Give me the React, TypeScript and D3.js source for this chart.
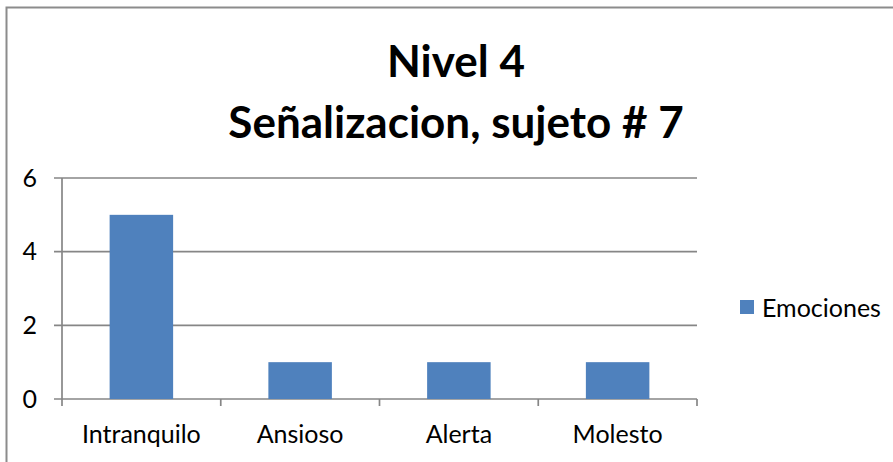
import { useEffect, useRef } from "react";
import * as d3 from "d3";

const categories = ["Intranquilo", "Ansioso", "Alerta", "Molesto"];
const values = [5, 1, 1, 1];
const yTicks = [0, 2, 4, 6];
const seriesName = "Emociones";
const titleLines = ["Nivel 4", "Señalizacion, sujeto # 7"];

const FONT = "Lato, 'Open Sans', sans-serif";

export default function App() {
  const ref = useRef<SVGSVGElement>(null);

  useEffect(() => {
    const svg = d3.select(ref.current);
    svg.selectAll("*").remove();

    const plot = { left: 62, right: 697, top: 178, bottom: 399 };
    const grey = "#868686";

    // outer chart frame (cropped on the right and bottom)
    svg.append("rect")
      .attr("x", 6.5).attr("y", 7.5)
      .attr("width", 1000).attr("height", 1000)
      .attr("fill", "white")
      .attr("stroke", "#8c8c8c")
      .attr("stroke-width", 2);

    const x = d3.scaleBand()
      .domain(categories)
      .range([plot.left, plot.right])
      .paddingInner(0.6)
      .paddingOuter(0.3);

    const y = d3.scaleLinear()
      .domain([0, 6])
      .range([plot.bottom, plot.top]);

    // horizontal gridlines + y ticks
    svg.append("g")
      .selectAll("line")
      .data(yTicks)
      .enter()
      .append("line")
      .attr("x1", plot.left - 8)
      .attr("x2", plot.right)
      .attr("y1", d => y(d))
      .attr("y2", d => y(d))
      .attr("stroke", grey)
      .attr("stroke-width", 1.7);

    // y axis line
    svg.append("line")
      .attr("x1", plot.left).attr("x2", plot.left)
      .attr("y1", y(6)).attr("y2", plot.bottom + 7)
      .attr("stroke", grey).attr("stroke-width", 1.7);

    // category tick marks at band edges
    const step = x.step();
    const edges = d3.range(categories.length + 1).map(i => plot.left + i * step);
    svg.append("g")
      .selectAll("line")
      .data(edges.slice(1))
      .enter()
      .append("line")
      .attr("x1", d => d).attr("x2", d => d)
      .attr("y1", plot.bottom).attr("y2", plot.bottom + 7)
      .attr("stroke", grey).attr("stroke-width", 1.7);

    // y labels
    svg.append("g")
      .selectAll("text")
      .data(yTicks)
      .enter()
      .append("text")
      .attr("x", 37)
      .attr("y", d => y(d))
      .attr("dy", "0.35em")
      .attr("text-anchor", "end")
      .attr("font-family", FONT)
      .attr("font-size", 25)
      .attr("fill", "#000")
      .text(d => d);

    // bars
    svg.append("g")
      .selectAll("rect")
      .data(values)
      .enter()
      .append("rect")
      .attr("x", (d, i) => x(categories[i])!)
      .attr("y", d => y(d))
      .attr("width", x.bandwidth())
      .attr("height", d => plot.bottom - y(d))
      .attr("fill", "#4f81bd");

    // category labels
    svg.append("g")
      .selectAll("text")
      .data(categories)
      .enter()
      .append("text")
      .attr("x", d => x(d)! + x.bandwidth() / 2)
      .attr("y", 443)
      .attr("text-anchor", "middle")
      .attr("font-family", FONT)
      .attr("font-size", 25)
      .attr("fill", "#000")
      .text(d => d);

    // title
    svg.append("g")
      .selectAll("text")
      .data(titleLines)
      .enter()
      .append("text")
      .attr("x", 456)
      .attr("y", (d, i) => 77 + i * 61)
      .attr("text-anchor", "middle")
      .attr("font-family", FONT)
      .attr("font-weight", "bold")
      .attr("font-size", 44)
      .attr("fill", "#000")
      .text(d => d);

    // legend
    svg.append("rect")
      .attr("x", 740).attr("y", 300)
      .attr("width", 14).attr("height", 14)
      .attr("fill", "#4f81bd");
    svg.append("text")
      .attr("x", 762).attr("y", 317)
      .attr("font-family", FONT)
      .attr("font-size", 25)
      .attr("fill", "#000")
      .text(seriesName);
  }, []);

  return (
    <svg
      ref={ref}
      width={893}
      height={462}
      style={{ position: "absolute", left: 0, top: 0, background: "white" }}
    />
  );
}
